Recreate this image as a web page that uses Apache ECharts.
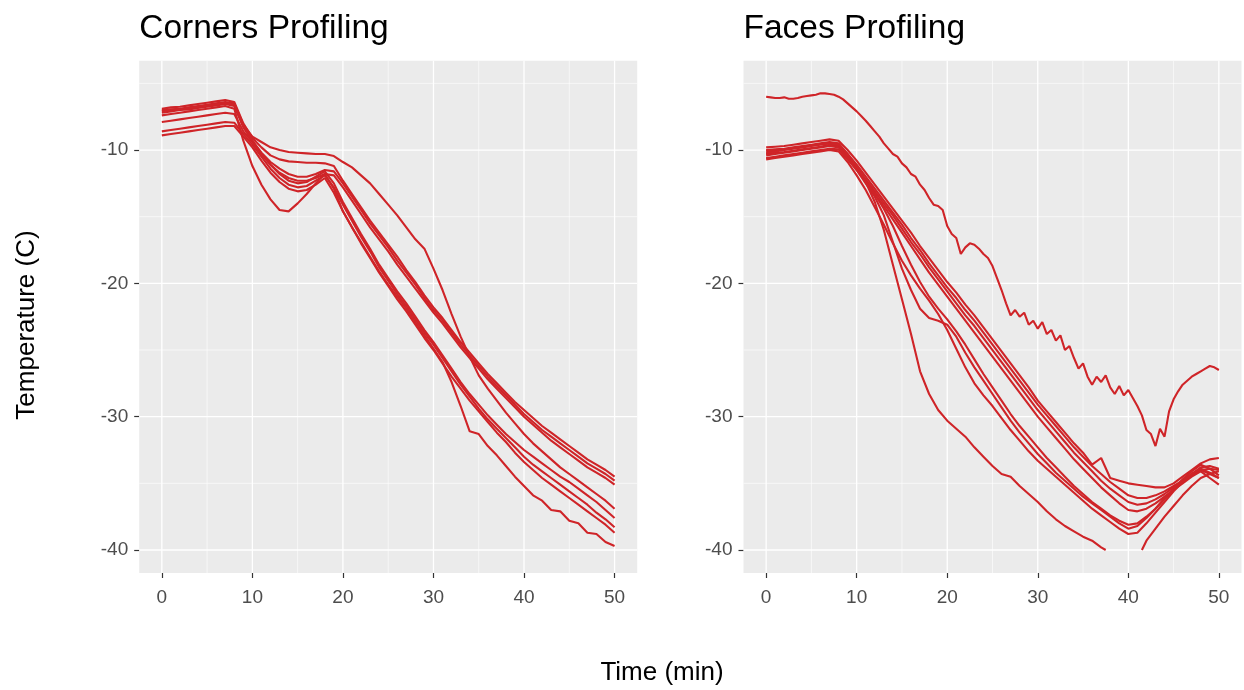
<!DOCTYPE html>
<html><head><meta charset="utf-8">
<script src="https://cdn.jsdelivr.net/npm/echarts@6/dist/echarts.min.js"></script>
<style>html,body{margin:0;padding:0;background:#fff}#c{width:1244px;height:690px}</style>
</head><body><div id="c"></div>
<script>
// ---------- data ----------
const panelTitles = ['Corners Profiling', 'Faces Profiling'];
const xTitle = 'Time (min)';
const yTitle = 'Temperature (C)';
const xTicks = [0, 10, 20, 30, 40, 50];
const xMinor = [5, 15, 25, 35, 45];
const yTicks = [-40, -30, -20, -10];
const yMinor = [-35, -25, -15, -5];
const X_MIN = -2.5, X_MAX = 52.5, Y_MIN = -41.725, Y_MAX = -3.3;

const timeMin = [0,1,2,3,4,5,6,7,8,9,10,11,12,13,14,15,16,17,18,19,20,21,22,23,24,25,26,27,28,29,30,31,32,33,34,35,36,37,38,39,40,41,42,43,44,45,46,47,48,49,50];
const timeHalf = [0,0.5,1,1.5,2,2.5,3,3.5,4,4.5,5,5.5,6,6.5,7,7.5,8,8.5,9,9.5,10,10.5,11,11.5,12,12.5,13,13.5,14,14.5,15,15.5,16,16.5,17,17.5,18,18.5,19,19.5,20,20.5,21,21.5,22,22.5,23,23.5,24,24.5,25,25.5,26,26.5,27,27.5,28,28.5,29,29.5,30,30.5,31,31.5,32,32.5,33,33.5,34,34.5,35,35.5,36,36.5,37,37.5,38,38.5,39,39.5,40,40.5,41,41.5,42,42.5,43,43.5,44,44.5,45,45.5,46,46.5,47,47.5,48,48.5,49,49.5,50];

// Corners panel
const cornerA = [-7.0,-6.95,-6.9,-6.8,-6.7,-6.6,-6.5,-6.4,-6.5, -8.1,-9.0,-9.4,-9.8,-10.0,-10.15,-10.2,-10.25,-10.3,-10.3,-10.45, -10.9,-11.3,-11.9,-12.5,-13.3,-14.1,-14.9,-15.8,-16.7,-17.4, -18.9,-20.5,-22.3,-24.0,-25.5,-26.9,-27.9,-28.8,-29.7,-30.5, -31.3,-32.0,-32.6,-33.2,-33.8,-34.3,-34.8,-35.3,-35.8,-36.3,-36.9];
const cornerB = [-6.9,-6.8,-6.75,-6.65,-6.55,-6.45,-6.35,-6.25,-6.4, -8.0,-9.1,-9.8,-10.4,-10.7,-10.85,-10.9,-10.95,-10.95,-11.0,-11.2, -12.3,-13.3,-14.3,-15.3,-16.2,-17.1,-18.0,-19.0,-19.9,-20.9, -21.8,-22.6,-23.5,-24.4,-25.2,-26.0,-26.8,-27.5,-28.2,-28.9, -29.5,-30.1,-30.7,-31.2,-31.7,-32.2,-32.7,-33.2,-33.6,-34.0,-34.5];
const cornerC = [-7.2,-7.1,-7.0,-6.95,-6.85,-6.75,-6.65,-6.55,-6.7, -8.3,-9.3,-10.2,-10.9,-11.4,-11.8,-12.0,-12.0,-11.8,-11.5,-11.6, -12.5,-13.5,-14.5,-15.5,-16.4,-17.3,-18.3,-19.2,-20.1,-21.1, -22.0,-22.8,-23.7,-24.6,-25.4,-26.2,-27.0,-27.7,-28.4,-29.1, -29.8,-30.4,-31.0,-31.5,-32.0,-32.5,-33.0,-33.5,-33.9,-34.3,-34.8];
const cornerD = [-7.9,-7.8,-7.7,-7.6,-7.5,-7.4,-7.3,-7.2,-7.3, -8.6,-9.4,-10.3,-11.1,-11.7,-12.1,-12.3,-12.3,-12.1,-11.8,-11.9, -12.8,-13.8,-14.8,-15.8,-16.7,-17.6,-18.6,-19.5,-20.4,-21.3, -22.2,-23.0,-23.9,-24.8,-25.6,-26.4,-27.2,-27.9,-28.6,-29.3, -30.0,-30.6,-31.2,-31.8,-32.3,-32.8,-33.3,-33.8,-34.2,-34.6,-35.1];
const cornerE = [-7.1,-7.0,-6.95,-6.85,-6.75,-6.65,-6.55,-6.45,-6.6, -8.2,-9.3,-10.3,-11.1,-11.8,-12.3,-12.5,-12.4,-12.0,-11.6,-12.5, -13.9,-15.1,-16.3,-17.4,-18.6,-19.6,-20.6,-21.5,-22.5,-23.5, -24.4,-25.4,-26.4,-27.4,-28.3,-29.1,-29.9,-30.6,-31.3,-31.9, -32.5,-33.0,-33.5,-34.0,-34.5,-34.9,-35.4,-35.9,-36.4,-37.0,-37.6];
const cornerF = [-8.6,-8.5,-8.4,-8.3,-8.2,-8.1,-8.0,-7.9,-7.95, -8.8,-9.6,-10.5,-11.4,-12.1,-12.6,-12.8,-12.7,-12.3,-11.9,-12.8, -14.1,-15.3,-16.5,-17.6,-18.8,-19.8,-20.8,-21.7,-22.7,-23.7, -24.6,-25.6,-26.6,-27.6,-28.5,-29.4,-30.2,-30.9,-31.6,-32.3, -33.0,-33.6,-34.1,-34.6,-35.1,-35.6,-36.1,-36.6,-37.2,-37.7,-38.3];
const cornerG = [-8.9,-8.8,-8.7,-8.6,-8.5,-8.4,-8.3,-8.2,-8.2, -9.0,-9.8,-10.8,-11.7,-12.4,-12.9,-13.1,-13.0,-12.6,-12.1,-13.2, -14.6,-15.8,-17.0,-18.1,-19.2,-20.2,-21.2,-22.1,-23.1,-24.1, -25.0,-26.0,-27.0,-27.9,-28.8,-29.6,-30.4,-31.2,-31.9,-32.7, -33.4,-34.0,-34.6,-35.1,-35.6,-36.1,-36.6,-37.1,-37.6,-38.1,-38.7];
const cornerH = [-7.4,-7.3,-7.2,-7.1,-7.0,-6.9,-6.8,-6.7,-6.9, -9.3,-11.2,-12.6,-13.7,-14.5,-14.6,-14.0,-13.3,-12.5,-11.8,-12.9, -14.6,-15.8,-16.9,-18.0,-19.1,-20.1,-21.0,-21.9,-22.9,-23.9, -24.9,-25.9,-27.4,-29.2,-31.1,-31.3,-32.2,-32.9,-33.7,-34.5, -35.2,-35.9,-36.3,-37.0,-37.1,-37.8,-38.0,-38.7,-38.8,-39.4,-39.7];

// Faces panel
const faceTop = [-6.0,-6.05,-6.1,-6.1,-6.05,-6.15,-6.15,-6.1,-6.0,-5.95,-5.9,-5.85,-5.75,-5.75,-5.8,-5.85,-6.0,-6.2,-6.5,-6.8,
  -7.1,-7.45,-7.8,-8.2,-8.6,-9.0,-9.5,-9.9,-10.3,-10.5,-11.0,-11.3,-11.8,-12.0,-12.6,-13.0,-13.6,-14.1,-14.2,-14.5,
  -15.7,-16.3,-16.6,-17.8,-17.3,-17.0,-17.1,-17.4,-17.8,-18.1,-18.7,-19.6,-20.5,-21.5,-22.4,-22.0,-22.5,-22.2,-23.1,-22.8,
  -23.4,-22.9,-23.8,-23.5,-24.3,-23.9,-25.0,-24.7,-25.6,-26.4,-26.0,-27.0,-27.6,-27.0,-27.4,-26.9,-27.8,-28.3,-27.7,-28.4,
  -28.0,-28.6,-29.2,-29.9,-31.0,-31.3,-32.2,-30.9,-31.5,-29.6,-28.7,-28.1,-27.6,-27.3,-27.0,-26.8,-26.6,-26.4,-26.2,-26.3,-26.5];
const faceA = [-9.8,-9.75,-9.7,-9.6,-9.5,-9.4,-9.3,-9.2,-9.3, -10.0,-10.8,-11.7,-12.6,-13.5,-14.4,-15.3,-16.2,-17.2,-18.1,-19.0, -19.9,-20.7,-21.6,-22.4,-23.3,-24.2,-25.1,-26.0,-26.9,-27.8, -28.8,-29.6,-30.4,-31.2,-32.0,-32.7,-33.6,-33.1,-34.6,-34.8, -35.0,-35.1,-35.2,-35.3,-35.3,-35.0,-34.5,-34.0,-33.5,-33.2,-33.1];
const faceB = [-10.0,-9.95,-9.9,-9.8,-9.7,-9.6,-9.5,-9.4,-9.5, -10.3,-11.1,-12.0,-12.9,-13.8,-14.7,-15.6,-16.6,-17.5,-18.5,-19.4, -20.3,-21.1,-22.0,-22.8,-23.7,-24.6,-25.5,-26.4,-27.3,-28.2, -29.1,-29.9,-30.7,-31.5,-32.3,-33.0,-33.7,-34.3,-34.9,-35.4, -35.9,-36.1,-36.1,-35.9,-35.6,-35.2,-34.8,-34.4,-34.0,-33.9,-34.0];
const faceC = [-10.3,-10.2,-10.15,-10.05,-9.95,-9.85,-9.75,-9.6,-9.7, -10.5,-11.3,-12.2,-13.1,-14.0,-14.9,-15.9,-16.9,-17.8,-18.8,-19.7, -20.6,-21.5,-22.4,-23.2,-24.1,-25.0,-25.9,-26.8,-27.7,-28.6, -29.5,-30.3,-31.1,-31.9,-32.7,-33.4,-34.1,-34.8,-35.4,-35.9, -36.4,-36.6,-36.5,-36.2,-35.8,-35.3,-34.8,-34.3,-34.0,-34.3,-34.6];
const faceD = [-10.6,-10.5,-10.4,-10.3,-10.2,-10.1,-10.0,-9.9,-9.95, -10.7,-11.5,-12.4,-13.3,-14.2,-15.2,-16.2,-17.2,-18.2,-19.2,-20.1, -21.0,-21.9,-22.8,-23.7,-24.6,-25.5,-26.4,-27.3,-28.2,-29.1, -30.0,-30.8,-31.6,-32.4,-33.2,-33.9,-34.6,-35.3,-35.9,-36.5, -37.0,-37.1,-36.9,-36.5,-36.0,-35.5,-35.0,-34.5,-34.1,-34.6,-35.1];
const faceE = [-10.1,-10.0,-9.95,-9.85,-9.75,-9.65,-9.55,-9.45,-9.55, -10.4,-11.3,-12.3,-13.3,-14.4,-15.7,-17.2,-18.6,-19.9,-21.0,-21.9, -22.7,-23.6,-24.6,-25.7,-26.8,-27.8,-28.8,-29.8,-30.7,-31.5, -32.3,-33.1,-33.8,-34.5,-35.2,-35.8,-36.4,-36.9,-37.4,-37.8, -38.1,-38.0,-37.5,-36.9,-36.2,-35.5,-34.9,-34.3,-33.8,-33.7,-33.9];
const faceF = [-10.4,-10.3,-10.2,-10.1,-10.0,-9.9,-9.8,-9.7,-9.8, -10.6,-11.5,-12.5,-13.5,-14.9,-16.9,-18.9,-20.5,-21.9,-22.6,-22.8, -23.1,-24.0,-25.2,-26.3,-27.3,-28.3,-29.3,-30.3,-31.2,-32.0, -32.8,-33.5,-34.2,-34.8,-35.4,-36.0,-36.5,-37.0,-37.5,-38.0, -38.4,-38.2,-37.6,-36.9,-36.1,-35.4,-34.7,-34.1,-33.6,-33.9,-34.4];
const faceG = [-10.7,-10.6,-10.5,-10.4,-10.3,-10.2,-10.1,-10.0,-10.1, -10.9,-11.9,-13.0,-14.3,-15.6,-17.0,-18.3,-19.4,-20.4,-21.3,-22.3, -23.5,-24.9,-26.3,-27.5,-28.4,-29.2,-30.1,-31.0,-31.8,-32.6, -33.3,-33.9,-34.5,-35.1,-35.7,-36.3,-36.9,-37.4,-37.9,-38.4, -38.8,-38.7,-38.0,-37.2,-36.4,-35.6,-34.9,-34.3,-33.9,-34.2,-34.6];
const faceLowTime = [0,1,2,3,4,5,6,7,8,9,10,11,12,13,14,15,16,17,18,19,20,21,22,23,24,25,26,27,28,29,30,31,32,33,34,35,36,37,37.5,39.5,41.5,42,43,44,45,46,47,48,49,50];
const faceLow = [-10.2,-10.1,-10.0,-9.9,-9.8,-9.7,-9.6,-9.5,-9.6, -10.3,-11.2,-12.4,-13.9,-16.0,-18.6,-21.2,-23.8,-26.6,-28.3,-29.5, -30.3,-30.9,-31.5,-32.3,-33.0,-33.7,-34.3,-34.5,-35.2,-35.8, -36.4,-37.1,-37.7,-38.2,-38.6,-39.0,-39.3,-39.8, -40.0,null,-40.0, -39.3,-38.4,-37.5,-36.7,-35.9,-35.2,-34.6,-34.3,-34.1];

const cornerSeries = [cornerA, cornerB, cornerC, cornerD, cornerE, cornerF, cornerG, cornerH].map(v => [timeMin, v]);
const faceSeries = [[timeHalf, faceTop], [timeMin, faceA], [timeMin, faceB], [timeMin, faceC], [timeMin, faceD], [timeMin, faceE], [timeMin, faceF], [timeMin, faceG], [faceLowTime, faceLow]];

// ---------- chart ----------
const FONT = "'Liberation Sans', Arial, Helvetica, sans-serif";
const RED = '#CF2428';
const grids = [
  {left: 139.2, top: 60.7, width: 498, height: 512.3},
  {left: 743.5, top: 60.7, width: 498, height: 512.3}
];
function pairs(ts, vs) { return ts.map((t, i) => [t, vs[i] === null ? '-' : vs[i]]); }
function gridLine(g, data, w) {
  return {type: 'line', xAxisIndex: g, yAxisIndex: g, data: data, symbol: 'none', silent: true,
    z: 1, animation: false, lineStyle: {color: '#FFFFFF', width: w}, emphasis: {disabled: true}, tooltip: {show: false}};
}
const series = [];
[0, 1].forEach(g => {
  yMinor.forEach(v => series.push(gridLine(g, [[X_MIN, v], [X_MAX, v]], 0.6)));
  xMinor.forEach(v => series.push(gridLine(g, [[v, Y_MIN], [v, Y_MAX]], 0.6)));
  yTicks.forEach(v => series.push(gridLine(g, [[X_MIN, v], [X_MAX, v]], 1.3)));
  xTicks.forEach(v => series.push(gridLine(g, [[v, Y_MIN], [v, Y_MAX]], 1.3)));
});
[cornerSeries, faceSeries].forEach((list, g) => {
  list.forEach(([ts, vs]) => series.push({
    type: 'line', xAxisIndex: g, yAxisIndex: g, data: pairs(ts, vs), symbol: 'none', silent: true,
    z: 3, animation: false, connectNulls: false, lineStyle: {color: RED, width: 2.1}, emphasis: {disabled: true}
  }));
});
function xAx(g) {
  return {gridIndex: g, type: 'value', min: X_MIN, max: X_MAX,
    axisLine: {show: true, onZero: false, lineStyle: {color: 'rgba(0,0,0,0)', width: 0}}, splitLine: {show: false},
    axisTick: {show: true, length: 5, customValues: xTicks, lineStyle: {color: '#333333', width: 1.2}},
    axisLabel: {customValues: xTicks, color: '#4D4D4D', fontSize: 19, fontFamily: FONT, margin: 15}};
}
function yAx(g) {
  return {gridIndex: g, type: 'value', min: Y_MIN, max: Y_MAX,
    axisLine: {show: true, onZero: false, lineStyle: {color: 'rgba(0,0,0,0)', width: 0}}, splitLine: {show: false},
    axisTick: {show: true, length: 5, customValues: yTicks, lineStyle: {color: '#333333', width: 1.2}},
    axisLabel: {customValues: yTicks, color: '#4D4D4D', fontSize: 19, fontFamily: FONT, margin: 11}};
}
const chart = echarts.init(document.getElementById('c'), null, {renderer: 'canvas'});
chart.setOption({
  backgroundColor: '#FFFFFF',
  animation: false,
  grid: grids.map(b => Object.assign({show: true, backgroundColor: '#EBEBEB', borderWidth: 0, containLabel: false, outerBoundsMode: 'none'}, b)),
  xAxis: [xAx(0), xAx(1)],
  yAxis: [yAx(0), yAx(1)],
  graphic: [
    {type: 'text', left: grids[0].left, top: 12, style: {text: panelTitles[0], font: '33.5px ' + FONT, fill: '#000'}},
    {type: 'text', left: grids[1].left, top: 12, style: {text: panelTitles[1], font: '33.5px ' + FONT, fill: '#000'}},
    {type: 'text', x: 662, y: 673, style: {text: xTitle, font: '26px ' + FONT, fill: '#000', align: 'center', verticalAlign: 'middle'}},
    {type: 'text', x: 27, y: 325, rotation: Math.PI / 2, style: {text: yTitle, font: '26px ' + FONT, fill: '#000', align: 'center', verticalAlign: 'middle'}}
  ],
  series: series
});
</script>
</body></html>
